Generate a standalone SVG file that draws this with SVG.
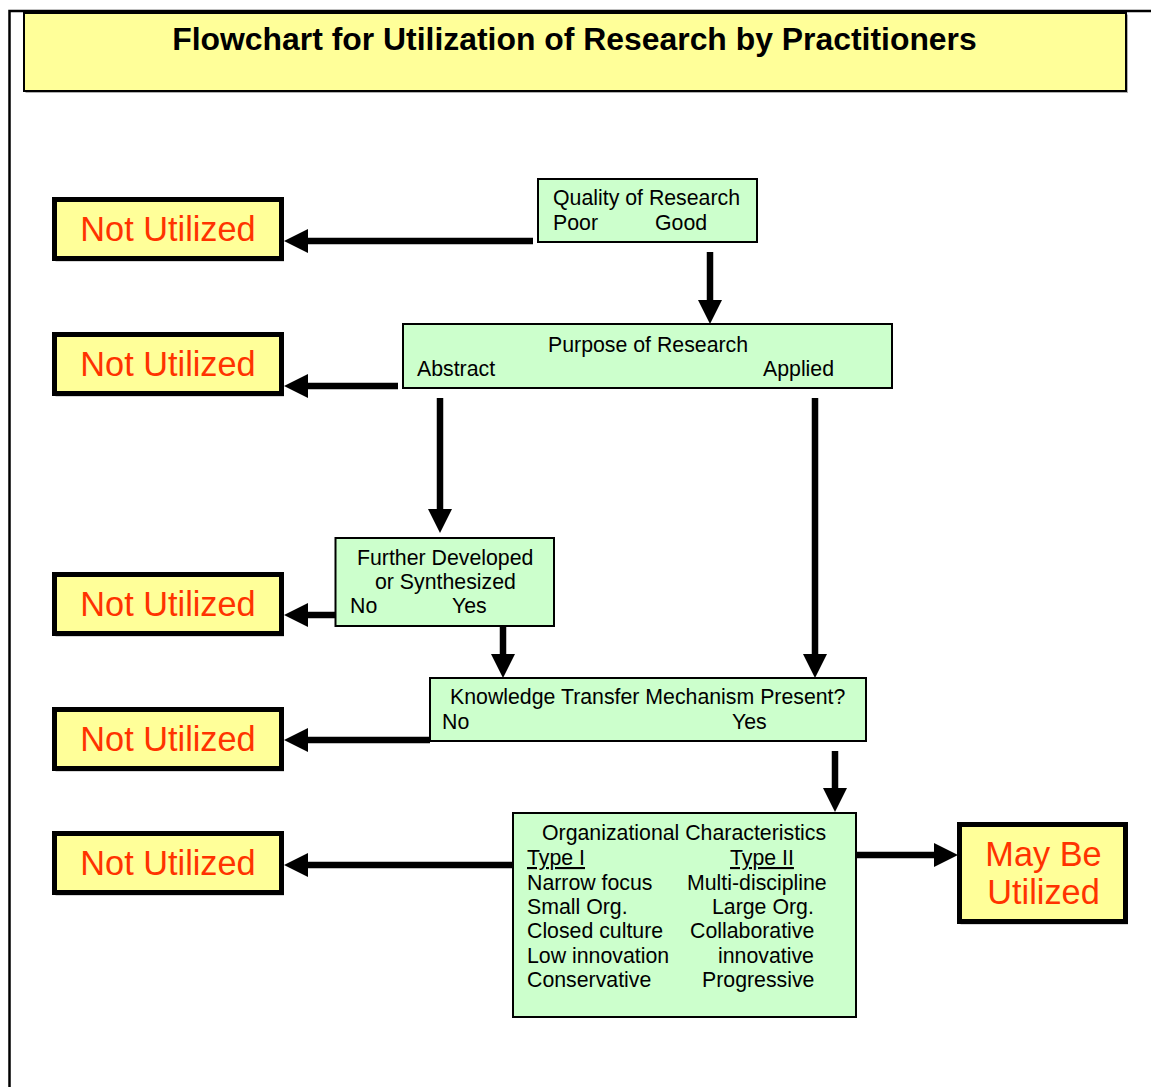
<svg xmlns="http://www.w3.org/2000/svg" width="1151" height="1087" viewBox="0 0 1151 1087">
<style>
.frame{fill:none;stroke:#000;stroke-width:2.5}
.title-box{fill:#FFFF99;stroke:#000;stroke-width:2}
.shadow{fill:#b0b0b0}
.term{fill:#FFFF99;stroke:#000;stroke-width:5}
.proc{fill:#CCFFCC;stroke:#000;stroke-width:2}
.title{font-family:"Liberation Sans",Arial,sans-serif;font-weight:bold;font-size:31.9px;fill:#000;text-anchor:middle}
.big{font-family:"Liberation Sans",Arial,sans-serif;font-size:34.3px;fill:#FF3300;text-anchor:middle}
.t{font-family:"Liberation Sans",Arial,sans-serif;font-size:21.3px;fill:#000}
.u{text-decoration:underline}
.conn{stroke:#000;stroke-width:6.5;fill:none}
</style>
<defs>
<marker id="ah" viewBox="0 0 24 24" markerWidth="24" markerHeight="24" markerUnits="userSpaceOnUse" refX="1" refY="12" orient="auto">
<path d="M0,0 L24,12 L0,24 z" fill="#000"/>
</marker>
</defs>
<rect width="1151" height="1087" fill="#fff"/>
<path class="frame" d="M9.5,1087 V11 H1151"/>

<g id="title">
<rect class="shadow" x="25.5" y="14.5" width="1102.5" height="78.5"/>
<rect class="title-box" x="24" y="13" width="1102" height="78"/>
<text class="title" x="574.5" y="50">Flowchart for Utilization of Research by Practitioners</text>
</g>

<g id="connectors">
<line class="conn" x1="533" y1="241" x2="307" y2="241" marker-end="url(#ah)"/>
<line class="conn" x1="710" y1="252" x2="710" y2="301" marker-end="url(#ah)"/>
<line class="conn" x1="398" y1="386" x2="307" y2="386" marker-end="url(#ah)"/>
<line class="conn" x1="440" y1="398" x2="440" y2="510" marker-end="url(#ah)"/>
<line class="conn" x1="815" y1="398" x2="815" y2="655" marker-end="url(#ah)"/>
<line class="conn" x1="336" y1="615" x2="307" y2="615" marker-end="url(#ah)"/>
<line class="conn" x1="503" y1="626" x2="503" y2="655" marker-end="url(#ah)"/>
<line class="conn" x1="430" y1="740" x2="307" y2="740" marker-end="url(#ah)"/>
<line class="conn" x1="835" y1="751" x2="835" y2="789" marker-end="url(#ah)"/>
<line class="conn" x1="513" y1="865" x2="307" y2="865" marker-end="url(#ah)"/>
<line class="conn" x1="856" y1="855" x2="935" y2="855" marker-end="url(#ah)"/>
</g>

<g id="nu1">
<rect class="shadow" x="55.5" y="201" width="228.5" height="60.5"/>
<rect class="term" x="54.5" y="199.5" width="227" height="59"/>
<text class="big" x="168" y="241">Not Utilized</text>
</g>
<g id="nu2">
<rect class="shadow" x="55.5" y="336" width="228.5" height="60.5"/>
<rect class="term" x="54.5" y="334.5" width="227" height="59"/>
<text class="big" x="168" y="376">Not Utilized</text>
</g>
<g id="nu3">
<rect class="shadow" x="55.5" y="576" width="228.5" height="60.5"/>
<rect class="term" x="54.5" y="574.5" width="227" height="59"/>
<text class="big" x="168" y="616">Not Utilized</text>
</g>
<g id="nu4">
<rect class="shadow" x="55.5" y="711" width="228.5" height="60.5"/>
<rect class="term" x="54.5" y="709.5" width="227" height="59"/>
<text class="big" x="168" y="751">Not Utilized</text>
</g>
<g id="nu5">
<rect class="shadow" x="55.5" y="835" width="228.5" height="60.5"/>
<rect class="term" x="54.5" y="833.5" width="227" height="59"/>
<text class="big" x="168" y="875">Not Utilized</text>
</g>

<g id="maybe">
<rect class="shadow" x="960.5" y="826" width="167.5" height="98.5"/>
<rect class="term" x="959.5" y="824.5" width="166" height="97"/>
<text class="big" x="1043.5" y="866">May Be</text>
<text class="big" x="1043.5" y="904">Utilized</text>
</g>

<g id="quality">
<rect class="proc" x="538" y="179" width="219" height="63"/>
<text class="t" x="553" y="205">Quality of Research</text>
<text class="t" x="553" y="230">Poor</text>
<text class="t" x="655" y="230">Good</text>
</g>

<g id="purpose">
<rect class="proc" x="403" y="324" width="489" height="64"/>
<text class="t" x="548" y="352">Purpose of Research</text>
<text class="t" x="417" y="376">Abstract</text>
<text class="t" x="763" y="376">Applied</text>
</g>

<g id="further">
<rect class="proc" x="335.5" y="538" width="218.5" height="88"/>
<text class="t" x="357" y="565">Further Developed</text>
<text class="t" x="375" y="589">or Synthesized</text>
<text class="t" x="350" y="613">No</text>
<text class="t" x="452" y="613">Yes</text>
</g>

<g id="knowledge">
<rect class="proc" x="430" y="678" width="436" height="63"/>
<text class="t" x="450" y="704">Knowledge Transfer Mechanism Present?</text>
<text class="t" x="442" y="729">No</text>
<text class="t" x="732" y="729">Yes</text>
</g>

<g id="org">
<rect class="proc" x="513" y="813" width="343" height="204"/>
<text class="t" x="542" y="840">Organizational Characteristics</text>
<text class="t u" x="527" y="865">Type I</text>
<text class="t u" x="730" y="865">Type II</text>
<text class="t" x="527" y="890">Narrow focus</text>
<text class="t" x="687" y="890">Multi-discipline</text>
<text class="t" x="527" y="914">Small Org.</text>
<text class="t" x="712" y="914">Large Org.</text>
<text class="t" x="527" y="938">Closed culture</text>
<text class="t" x="690" y="938">Collaborative</text>
<text class="t" x="527" y="963">Low innovation</text>
<text class="t" x="718" y="963">innovative</text>
<text class="t" x="527" y="987">Conservative</text>
<text class="t" x="702" y="987">Progressive</text>
</g>
</svg>
